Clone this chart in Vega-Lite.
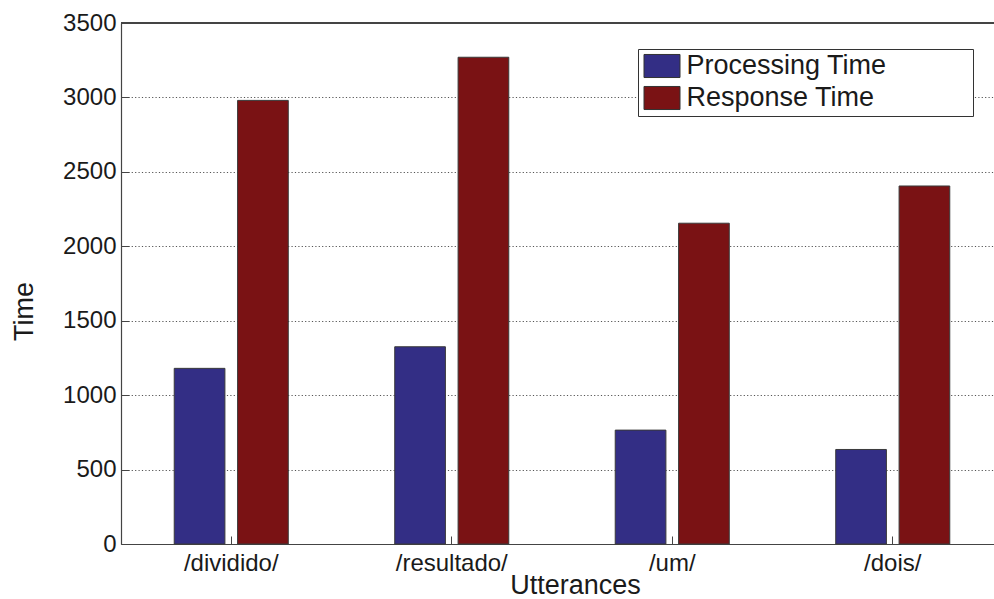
{
  "$schema": "https://vega.github.io/schema/vega-lite/v6.json",
  "width": 873,
  "height": 521,
  "autosize": {"type": "none"},
  "padding": {"left": 121, "top": 23, "right": 0, "bottom": 55},
  "background": "white",
  "config": {
    "view": {"stroke": null},
    "font": "Liberation Sans",
    "axis": {
      "labelFont": "Liberation Sans",
      "titleFont": "Liberation Sans",
      "labelColor": "#1a1a1a",
      "titleColor": "#1a1a1a",
      "domainColor": "#444444",
      "tickColor": "#444444"
    }
  },
  "data": {
    "values": [
      {"utterance": "/dividido/", "series": "Processing Time", "time": 1180},
      {"utterance": "/dividido/", "series": "Response Time", "time": 2980},
      {"utterance": "/resultado/", "series": "Processing Time", "time": 1325},
      {"utterance": "/resultado/", "series": "Response Time", "time": 3270},
      {"utterance": "/um/", "series": "Processing Time", "time": 765},
      {"utterance": "/um/", "series": "Response Time", "time": 2155},
      {"utterance": "/dois/", "series": "Processing Time", "time": 635},
      {"utterance": "/dois/", "series": "Response Time", "time": 2405}
    ]
  },
  "layer": [
    {
      "mark": {"type": "bar", "stroke": "#3a3a3a", "strokeWidth": 1},
      "encoding": {
        "x": {
          "field": "utterance",
          "type": "nominal",
          "sort": ["/dividido/", "/resultado/", "/um/", "/dois/"],
          "scale": {"range": [0, 882], "paddingInner": 0, "paddingOuter": 0},
          "axis": {
            "title": "Utterances",
            "titleFontSize": 27,
            "titleFontWeight": "normal",
            "titleX": 454,
            "titleY": 49,
            "titleBaseline": "alphabetic",
            "labelFontSize": 24,
            "labelAngle": 0,
            "labelPadding": 15,
            "tickSize": -8,
            "domainWidth": 1.2
          }
        },
        "xOffset": {
          "field": "series",
          "type": "nominal",
          "sort": ["Processing Time", "Response Time"],
          "scale": {"paddingInner": 0.2, "paddingOuter": 0.84}
        },
        "y": {
          "field": "time",
          "type": "quantitative",
          "scale": {"domain": [0, 3500], "nice": false, "zero": true},
          "axis": {
            "title": "Time",
            "titleFontSize": 27,
            "titleFontWeight": "normal",
            "titleX": -89,
            "titleY": 288,
            "titleBaseline": "alphabetic",
            "titleAngle": -90,
            "labelFontSize": 24,
            "labelPadding": 13,
            "format": "d",
            "tickSize": -8,
            "values": [0, 500, 1000, 1500, 2000, 2500, 3000, 3500],
            "grid": true,
            "gridColor": "#555555",
            "gridDash": [1.2, 2.2],
            "gridWidth": 1,
            "domainWidth": 1.2
          }
        },
        "color": {
          "field": "series",
          "type": "nominal",
          "scale": {"domain": ["Processing Time", "Response Time"], "range": ["#332e85", "#7a1214"]},
          "legend": {
            "title": null,
            "orient": "none",
            "legendX": 517,
            "legendY": 26,
            "strokeColor": "#333333",
            "fillColor": "white",
            "padding": 3.5,
            "rowPadding": 3,
            "labelFont": "Liberation Sans",
            "labelFontSize": 27,
            "labelColor": "#1a1a1a",
            "labelOffset": 11,
            "symbolOffset": 7,
            "labelLimit": 500,
            "labelExpr": "datum.label + '\u00a0\u00a0\u00a0\u00a0\u00a0\u00a0\u00a0\u00a0\u00a0\u00a0\u00a0\u200b'",
            "symbolType": "M-1.5,-0.96L1.5,-0.96L1.5,0.96L-1.5,0.96Z",
            "symbolSize": 576,
            "symbolStrokeColor": "#333333",
            "symbolStrokeWidth": 1,
            "symbolOpacity": 1
          }
        }
      }
    },
    {
      "mark": {"type": "rule", "color": "#444444", "strokeWidth": 1.2},
      "encoding": {"y": {"datum": 3500}}
    }
  ]
}
